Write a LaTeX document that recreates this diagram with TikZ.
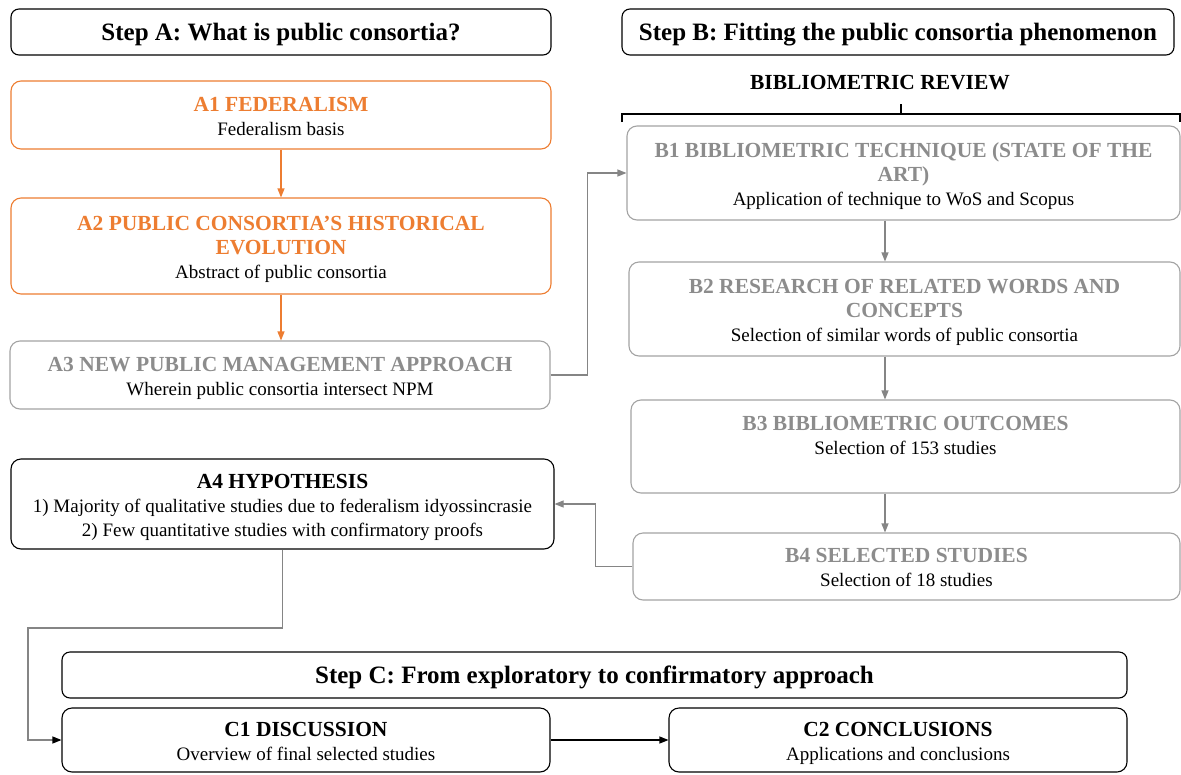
\documentclass[tikz,border=0pt]{standalone}
\usepackage{fontspec}
\setmainfont{Liberation Serif}
\usetikzlibrary{arrows.meta,calc}
\definecolor{orng}{HTML}{ED7D31}
\definecolor{gtxt}{HTML}{8C8C8C}
\definecolor{gline}{HTML}{A3A3A3}
\definecolor{conn}{HTML}{858585}
\newcommand\ttl[1]{{\fontsize{21.5}{24}\selectfont\bfseries #1}}
\newcommand\otl[1]{{\color{orng}\fontsize{21.5}{24}\selectfont\bfseries #1}}
\newcommand\gtl[1]{{\color{gtxt}\fontsize{21.5}{24}\selectfont\bfseries #1}}
\newcommand\tstr{\rule{0pt}{22pt}}
\newcommand\bstr{\rule[-6pt]{0pt}{6pt}}
\begin{document}
\begin{tikzpicture}[x=1pt,y=-1pt,
  box/.style={draw, rounded corners=10pt, line width=1.1pt, align=center, inner sep=0pt, font=\fontsize{19}{24}\selectfont},
  obox/.style={box, draw=orng},
  gbox/.style={box, draw=gline},
  kbox/.style={box, draw=black},
  headbox/.style={draw, rounded corners=8pt, line width=1.1pt, inner sep=0pt, minimum height=46pt, font=\fontsize{25}{28}\selectfont\bfseries},
  oarr/.style={draw=orng, line width=1.1pt, -{Triangle[length=9pt,width=7pt]}},
  garr/.style={draw=conn, line width=1.1pt, -{Triangle[length=9pt,width=7pt]}},
  karr/.style={draw=conn, line width=1.1pt, -{Triangle[length=9pt,width=7pt,fill=black,color=black]}},
  barr/.style={draw=black, line width=1.1pt, -{Triangle[length=9pt,width=7pt]}},
]
\useasboundingbox (0,0) rectangle (1181,774);

% headings
\node[headbox, minimum width=540pt] (SA) at (281,32) {\tstr Step A: What is public consortia?\bstr};
\node[headbox, minimum width=552pt] (SB) at (898,32) {\tstr Step B: Fitting the public consortia phenomenon\bstr};
\node[headbox, minimum width=1065pt] (SC) at (594.5,675) {\tstr Step C: From exploratory to confirmatory approach\bstr};

% column A
\node[obox, minimum width=540pt, minimum height=68pt] (A1) at (281,115)
  {\tstr\otl{A1 FEDERALISM}\\ Federalism basis\bstr};
\node[obox, minimum width=540pt, minimum height=96pt] (A2) at (281,246)
  {\tstr\otl{A2 PUBLIC CONSORTIA’S HISTORICAL}\\ \otl{EVOLUTION}\\ Abstract of public consortia\bstr};
\node[gbox, minimum width=540pt, minimum height=68pt] (A3) at (280,375)
  {\tstr\gtl{A3 NEW PUBLIC MANAGEMENT APPROACH}\\ Wherein public consortia intersect NPM\bstr};
\node[kbox, minimum width=543pt, minimum height=90pt] (A4) at (282.5,504)
  {\tstr\ttl{A4 HYPOTHESIS}\\ 1) Majority of qualitative studies due to federalism idyossincrasie\\ 2) Few quantitative studies with confirmatory proofs\bstr};

% column B
\node[font=\fontsize{21.5}{24}\selectfont\bfseries] (BR) at (880,83) {BIBLIOMETRIC REVIEW};
\draw[line width=1.1pt] (622,122) -- (622,114) -- (1180,114) -- (1180,122);
\draw[line width=1.1pt] (901,114) -- (901,104);

\node[gbox, minimum width=553pt, minimum height=94pt] (B1) at (903.5,173)
  {\tstr\gtl{B1 BIBLIOMETRIC TECHNIQUE (STATE OF THE}\\ \gtl{ART)}\\ Application of technique to WoS and Scopus\bstr};
\node[gbox, minimum width=551pt, minimum height=94pt] (B2) at (904.5,309)
  {\tstr\gtl{B2 RESEARCH OF RELATED WORDS AND}\\ \gtl{CONCEPTS}\\ Selection of similar words of public consortia\bstr};
\node[gbox, minimum width=549pt, minimum height=93pt] (B3) at (905.5,446.5)
  {\tstr\gtl{B3 BIBLIOMETRIC OUTCOMES}\\ Selection of 153 studies\\ \bstr};
\node[gbox, minimum width=547pt, minimum height=67pt] (B4) at (906.5,566.5)
  {\tstr\gtl{B4 SELECTED STUDIES}\\ Selection of 18 studies\bstr};

% column C
\node[kbox, minimum width=488pt, minimum height=64pt] (C1) at (306,740)
  {\tstr\ttl{C1 DISCUSSION}\\ Overview of final selected studies\bstr};
\node[kbox, minimum width=458pt, minimum height=64pt] (C2) at (898,740)
  {\tstr\ttl{C2 CONCLUSIONS}\\ Applications and conclusions\bstr};

% connectors
\coordinate (bx) at (885,0);
\coordinate (k1) at (28,628);
\draw[oarr] (A1.south) -- (A2.north);
\draw[oarr] (A2.south) -- (A3.north -| A2.south);
\draw[garr] (A3.east) -- ++(37,0) |- (B1.west);
\draw[garr] (B1.south -| bx) -- (B2.north -| bx);
\draw[garr] (B2.south -| bx) -- (B3.north -| bx);
\draw[garr] (B3.south -| bx) -- (B4.north -| bx);
\draw[garr] (B4.west) -- ++(-37,0) |- (A4.east);
\draw[karr] (A4.south) |- (k1) |- (C1.west);
\draw[barr] (C1.east) -- (C2.west);
\end{tikzpicture}
\end{document}
